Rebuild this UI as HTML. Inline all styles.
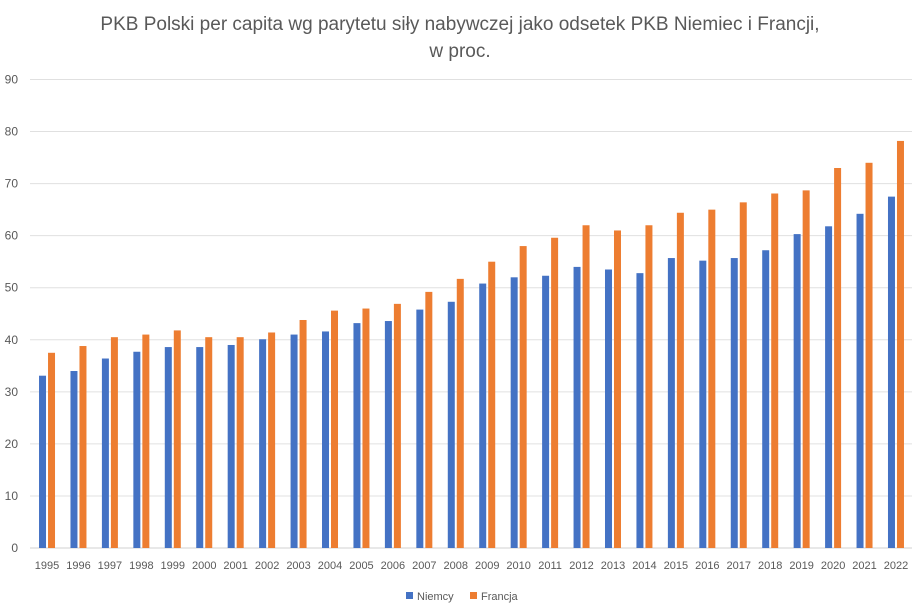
<!DOCTYPE html>
<html><head><meta charset="utf-8"><style>
body{margin:0;background:#fff;font-family:"Liberation Sans",sans-serif;}
svg{display:block}
</style></head><body>
<svg id="chart" width="920" height="610">
<text x="460" y="30" text-anchor="middle" font-size="19" fill="#595959">PKB Polski per capita wg parytetu siły nabywczej jako odsetek PKB Niemiec i Francji,</text>
<text x="460" y="57" text-anchor="middle" font-size="19" fill="#595959">w proc.</text>
<g id="grid"></g><g id="bars"></g><g id="xl"></g>
<g>
<rect x="406" y="592" width="7" height="7" fill="#4472c4"/>
<text x="417" y="600" font-size="11" fill="#595959">Niemcy</text>
<rect x="470" y="592" width="7" height="7" fill="#ed7d31"/>
<text x="481" y="600" font-size="11" fill="#595959">Francja</text>
</g>
</svg>
<script>
const categories=["1995","1996","1997","1998","1999","2000","2001","2002","2003","2004","2005","2006","2007","2008","2009","2010","2011","2012","2013","2014","2015","2016","2017","2018","2019","2020","2021","2022"];
const niemcy=[33.1,34,36.4,37.7,38.6,38.6,39,40.1,41,41.6,43.2,43.6,45.8,47.3,50.8,52,52.3,54,53.5,52.8,55.7,55.2,55.7,57.2,60.3,61.8,64.2,67.5];
const francja=[37.5,38.8,40.5,41,41.8,40.5,40.5,41.4,43.8,45.6,46,46.9,49.2,51.7,55,58,59.6,62,61,62,64.4,65,66.4,68.1,68.7,73,74,78.2];
const yTicks=[0,10,20,30,40,50,60,70,80,90];
const NS="http://www.w3.org/2000/svg";
const L=31.3,R=911.7,Y0=548,Y90=79.5;
const y=v=>Y0-(v/90)*(Y0-Y90);
const step=(R-L)/categories.length;
const xc=i=>L+step*(i+0.5);
function mk(t,a,p){const e=document.createElementNS(NS,t);for(const k in a)e.setAttribute(k,a[k]);p.appendChild(e);return e;}
const g=document.getElementById('grid'),b=document.getElementById('bars'),xl=document.getElementById('xl');
yTicks.forEach(v=>{
 const l=mk('line',{x1:30,x2:912,y1:y(v),y2:y(v),stroke:v===0?'#d0d0d0':'#e0e0e0','stroke-width':1},g);
 
 
 const t=mk('text',{x:18,y:y(v)+4,'text-anchor':'end','font-size':12,fill:'#595959'},g);
 t.textContent=v;
 
 
});
categories.forEach((c,i)=>{
 const cx=xc(i);
 const r1=mk('rect',{x:cx-8,y:y(niemcy[i]),width:7,height:Y0-y(niemcy[i]),fill:'#4472c4'},b);
 
 
 const r2=mk('rect',{x:cx+1,y:y(francja[i]),width:7,height:Y0-y(francja[i]),fill:'#ed7d31'},b);
 
 
 const t=mk('text',{x:cx,y:569,'text-anchor':'middle','font-size':11,fill:'#595959'},xl);
 t.textContent=c;
 
 
});
</script>
</body></html>
